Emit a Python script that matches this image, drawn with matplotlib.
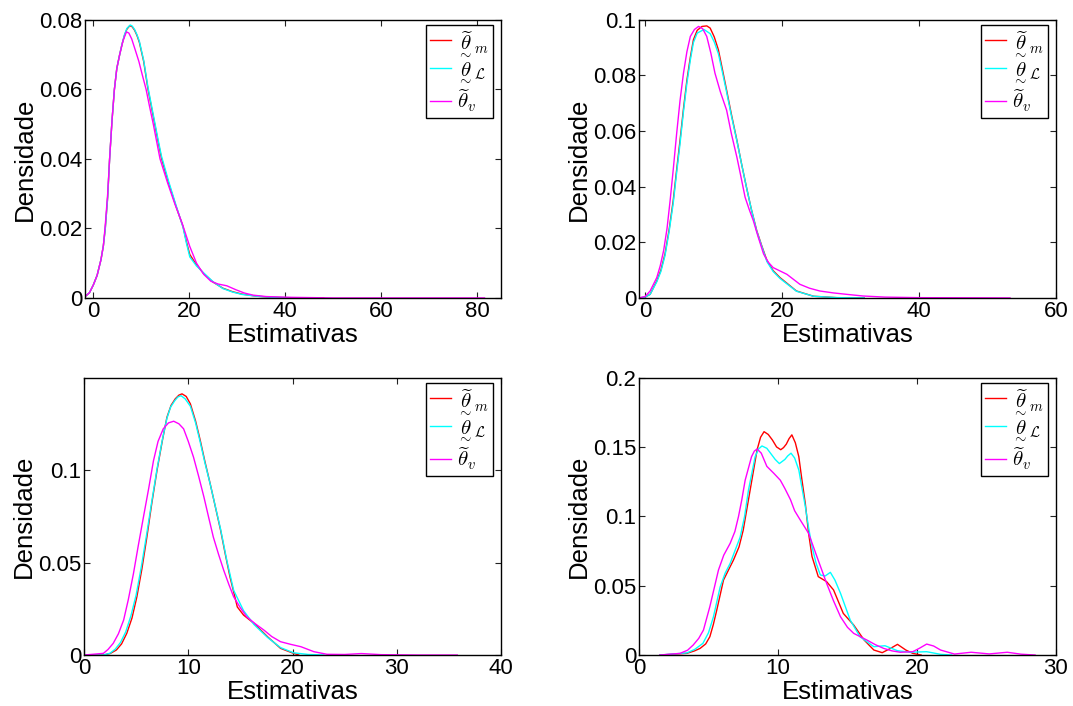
import matplotlib
matplotlib.use("Agg")
import matplotlib.pyplot as plt

plt.rcParams['font.family'] = ['Liberation Sans', 'DejaVu Sans']
plt.rcParams['mathtext.fontset'] = 'cm'

# ---- data (kernel density estimates) ----
legend_labels = [r'$\underset{\sim}{\widetilde{\theta}}_m$',
                 r'$\underset{\sim}{\theta}_{\mathcal{L}}$',
                 r'$\widetilde{\theta}_v$']
colors = ['red', 'cyan', 'magenta']

# panel 1 (top left)
tl_red_x = [-1.7, -0.8, 0, 0.8, 1.6, 2.1, 2.5, 3.0, 3.4, 3.9, 4.4, 4.9, 5.5, 6.0, 6.5, 7.0, 7.6, 8.1, 8.6,
            9.1, 9.6, 10.5, 11.4, 12.1, 12.8, 13.5, 14.2, 15.7, 17.2, 18.7, 19.4, 20.1, 21.5, 23.0, 25.0,
            27.0, 29.0, 31.0, 34.0, 37.0, 40.0, 44.0, 48.0]
tl_red_y = [0.0004, 0.0015, 0.0037, 0.0065, 0.011, 0.015, 0.020, 0.029, 0.040, 0.051, 0.060, 0.066, 0.0700,
            0.0730, 0.0755, 0.0773, 0.0783, 0.0780, 0.0770, 0.0755, 0.0735, 0.0680, 0.0600, 0.0550, 0.0500,
            0.0450, 0.0402, 0.0330, 0.0265, 0.0205, 0.0162, 0.0125, 0.0095, 0.0070, 0.0045, 0.0028, 0.0018,
            0.0011, 0.0005, 0.0002, 0.0001, 0.0, 0.0]
tl_cyan_x = [-1.7, -0.8, 0, 0.8, 1.6, 2.1, 2.5, 3.0, 3.4, 3.9, 4.4, 4.9, 5.5, 6.0, 6.5, 7.0, 7.7, 8.1, 8.6,
             9.1, 9.6, 10.5, 11.4, 12.1, 12.8, 13.5, 14.2, 15.7, 17.2, 18.7, 19.4, 20.1, 21.5, 23.0, 25.0,
             27.0, 29.0, 31.0, 34.0, 37.0, 40.0, 44.0, 47.0]
tl_cyan_y = [0.0004, 0.0015, 0.0037, 0.0065, 0.011, 0.015, 0.020, 0.029, 0.040, 0.051, 0.060, 0.066, 0.0700,
             0.0731, 0.0757, 0.0775, 0.0785, 0.0782, 0.0772, 0.0757, 0.0738, 0.0683, 0.0605, 0.0555, 0.0505,
             0.0455, 0.0408, 0.0335, 0.0268, 0.0203, 0.0158, 0.0118, 0.0092, 0.0072, 0.0046, 0.0027, 0.0017,
             0.0010, 0.0005, 0.0002, 0.0001, 0.0, 0.0]
tl_mag_x = [-1.7, -0.8, 0, 0.8, 1.6, 2.1, 2.5, 3.0, 3.4, 3.9, 4.4, 4.9, 5.5, 6.2, 6.9, 7.4, 8.0, 8.7, 9.5,
            10.2, 11.0, 11.7, 12.5, 13.2, 13.9, 15.5, 17.0, 18.5, 20.1, 21.5, 23.0, 24.5, 26.0, 27.8, 29.8,
            31.5, 33.3, 36.0, 40.0, 50.0, 81.5]
tl_mag_y = [0.0004, 0.0015, 0.0037, 0.0065, 0.011, 0.015, 0.021, 0.030, 0.040, 0.051, 0.060, 0.066, 0.0700,
            0.0740, 0.0765, 0.0762, 0.0745, 0.0715, 0.0680, 0.0642, 0.0600, 0.0552, 0.0500, 0.0450, 0.0400,
            0.0330, 0.0270, 0.0215, 0.0148, 0.0100, 0.0068, 0.0048, 0.0040, 0.0035, 0.0023, 0.0014, 0.0008,
            0.0004, 0.0002, 0.0, 0.0]

# panel 2 (top right)
tr_red_x = [-0.9, 0.0, 0.73, 1.7, 2.3, 2.9, 3.5, 4.1, 4.6, 5.1, 5.6, 6.1, 6.6, 7.05, 7.6, 8.3, 9.0, 9.5,
            10.1, 10.7, 11.3, 11.9, 12.6, 13.4, 14.1, 14.8, 15.5, 16.3, 17.0, 17.8, 18.7, 19.7, 22.1, 24.6,
            28.0, 32.0]
tr_red_y = [0.0, 0.0003, 0.0013, 0.0061, 0.0100, 0.0158, 0.0245, 0.035, 0.046, 0.0567, 0.068, 0.0783, 0.0865,
            0.0928, 0.0962, 0.0976, 0.0978, 0.0970, 0.0938, 0.0892, 0.082, 0.0747, 0.066, 0.0567, 0.048,
            0.0398, 0.032, 0.0242, 0.019, 0.0134, 0.0098, 0.0073, 0.0025, 0.0006, 0.0001, 0.0]
tr_cyan_x = [-0.9, 0.0, 0.73, 1.7, 2.3, 2.9, 3.5, 4.1, 4.6, 5.1, 5.6, 6.1, 6.6, 7.05, 7.6, 8.6, 9.5,
             10.1, 10.7, 11.3, 11.9, 12.6, 13.4, 14.1, 14.8, 15.5, 16.3, 17.0, 17.8, 18.7, 19.7, 22.1, 24.6,
             28.0, 32.0]
tr_cyan_y = [0.0, 0.0003, 0.0013, 0.0058, 0.0095, 0.0152, 0.0238, 0.034, 0.045, 0.0555, 0.067, 0.0772, 0.0855,
             0.0918, 0.0952, 0.0965, 0.0950, 0.0920, 0.0878, 0.081, 0.0740, 0.0655, 0.0565, 0.048, 0.0398,
             0.032, 0.0240, 0.0188, 0.0130, 0.0095, 0.0070, 0.0024, 0.0006, 0.0001, 0.0]
tr_mag_x = [-0.9, 0.0, 0.73, 1.7, 2.2, 2.7, 3.2, 3.65, 4.1, 4.6, 5.1, 5.6, 6.1, 6.6, 7.2, 7.8, 8.4, 9.0, 9.6,
            10.2, 11.0, 11.9, 12.6, 13.4, 14.0, 14.6, 15.2, 15.8, 16.5, 17.3, 18.0, 18.7, 19.7, 20.7, 21.6,
            22.6, 24.0, 25.5, 27.5, 29.4, 31.8, 35.0, 40.0, 53.3]
tr_mag_y = [0.0, 0.0005, 0.0025, 0.0073, 0.0115, 0.017, 0.025, 0.035, 0.046, 0.059, 0.071, 0.0808, 0.0885,
            0.094, 0.0965, 0.0976, 0.0968, 0.094, 0.088, 0.0808, 0.074, 0.0675, 0.059, 0.0506, 0.0435, 0.0362,
            0.0318, 0.0278, 0.022, 0.0158, 0.0128, 0.0109, 0.0097, 0.0085, 0.0068, 0.0049, 0.0035, 0.0025,
            0.0018, 0.0013, 0.0007, 0.0003, 0.0001, 0.0]

# panel 3 (bottom left)
bl_red_x = [0.0, 1.86, 2.5, 3.1, 3.6, 4.1, 4.6, 5.07, 5.55, 6.03, 6.5, 7.0, 7.5, 7.95, 8.35, 8.75, 9.1, 9.4,
            9.8, 10.2, 10.7, 11.15, 11.6, 12.1, 12.6, 13.1, 13.55, 14.0, 14.4, 14.7, 15.3, 16.3, 17.6, 18.85,
            20.1, 20.6]
bl_red_y = [0.0, 0.0, 0.0008, 0.0027, 0.0060, 0.0117, 0.0200, 0.0315, 0.0465, 0.0638, 0.0820, 0.0998, 0.1155,
            0.1285, 0.1350, 0.1385, 0.1405, 0.1412, 0.1398, 0.1358, 0.1265, 0.116, 0.1045, 0.0926, 0.0800,
            0.0674, 0.0545, 0.0422, 0.0330, 0.026, 0.0216, 0.0171, 0.0099, 0.0036, 0.0009, 0.0]
bl_cyan_x = [0.0, 1.86, 2.5, 3.0, 3.5, 4.0, 4.5, 5.0, 5.5, 6.0, 6.5, 7.0, 7.5, 7.95, 8.3, 8.7, 9.0, 9.3,
             9.7, 10.2, 10.7, 11.15, 11.6, 12.1, 12.6, 13.1, 13.7, 14.35, 15.3, 16.3, 17.6, 18.85, 20.1,
             21.5, 23.0]
bl_cyan_y = [0.0, 0.0, 0.0010, 0.0032, 0.0068, 0.0125, 0.0212, 0.0325, 0.0478, 0.065, 0.0830, 0.1005, 0.1160,
             0.128, 0.1340, 0.1375, 0.1395, 0.1402, 0.1385, 0.1345, 0.1255, 0.1150, 0.1038, 0.0925, 0.0802,
             0.068, 0.0510, 0.0350, 0.024, 0.0165, 0.0095, 0.0040, 0.0012, 0.0003, 0.0]
bl_mag_x = [0.0, 1.86, 2.3, 2.8, 3.3, 3.8, 4.25, 4.74, 5.2, 5.7, 6.2, 6.66, 7.1, 7.6, 8.1, 8.6, 9.1, 9.55,
            10.0, 10.5, 11.0, 11.5, 11.95, 12.4, 12.9, 13.4, 13.9, 14.35, 15.0, 15.6, 16.4, 17.25, 18.0,
            18.85, 19.8, 20.8, 22.05, 23.3, 25.0, 26.6, 28.5, 32.0, 35.8]
bl_mag_y = [0.0, 0.0009, 0.0030, 0.0063, 0.0115, 0.0189, 0.0300, 0.044, 0.0590, 0.0746, 0.0900, 0.105,
            0.1155, 0.1223, 0.1255, 0.1264, 0.1250, 0.1223, 0.1155, 0.107, 0.0965, 0.0854, 0.0745, 0.0638,
            0.0545, 0.0458, 0.0380, 0.0315, 0.0255, 0.0207, 0.0170, 0.0135, 0.0100, 0.0072, 0.0058, 0.0045,
            0.0018, 0.0004, 0.0003, 0.0008, 0.0002, 0.0, 0.0]

# panel 4 (bottom right)
br_red_x = [1.5, 3.44, 4.0, 4.4, 4.8, 5.1, 5.35, 5.6, 6.08, 6.5, 6.8, 7.2, 7.5, 8.0, 8.5, 8.75, 9.0, 9.3,
            9.6, 9.9, 10.2, 10.4, 10.6, 10.8, 11.0, 11.25, 11.5, 11.7, 11.97, 12.2, 12.45, 12.9, 13.5, 14.0,
            14.7, 15.45, 16.2, 16.9, 17.5, 18.1, 18.6, 19.2, 19.7, 20.3]
br_red_y = [0.0, 0.0012, 0.0030, 0.0048, 0.0080, 0.0132, 0.0220, 0.0325, 0.054, 0.0625, 0.0685, 0.0780, 0.09,
            0.119, 0.148, 0.157, 0.161, 0.159, 0.155, 0.150, 0.148, 0.1495, 0.152, 0.156, 0.1587, 0.153, 0.143,
            0.128, 0.109, 0.088, 0.071, 0.0565, 0.0529, 0.0469, 0.030, 0.0216, 0.0108, 0.0036, 0.0017,
            0.0048, 0.0077, 0.0036, 0.0012, 0.0]
br_cyan_x = [1.5, 3.44, 4.0, 4.6, 5.0, 5.36, 5.84, 6.2, 6.56, 6.9, 7.28, 7.6, 7.88, 8.36, 8.6, 8.85, 9.2, 9.5,
             9.8, 10.1, 10.5, 10.7, 10.94, 11.2, 11.5, 11.7, 11.97, 12.2, 12.45, 12.75, 13.05, 13.4, 13.77,
             14.1, 14.5, 15.2, 15.9, 16.9, 17.7, 18.6, 19.5, 20.7, 21.7, 22.5]
br_cyan_y = [0.0, 0.0015, 0.0040, 0.0084, 0.0160, 0.0276, 0.049, 0.0590, 0.066, 0.0750, 0.085, 0.1000, 0.119,
             0.143, 0.1485, 0.1507, 0.149, 0.145, 0.141, 0.138, 0.141, 0.1435, 0.1455, 0.1420, 0.1334, 0.122,
             0.107, 0.092, 0.078, 0.066, 0.0577, 0.0570, 0.0596, 0.0540, 0.0445, 0.0252, 0.0132, 0.006,
             0.0067, 0.0031, 0.002, 0.0024, 0.0005, 0.0]
br_mag_x = [1.5, 2.96, 3.5, 3.9, 4.3, 4.64, 5.1, 5.72, 6.1, 6.56, 6.9, 7.16, 7.4, 7.64, 8.1, 8.3, 8.5, 8.8,
            9.2, 9.7, 10.17, 10.5, 10.9, 11.2, 11.6, 12.2, 12.8, 13.5, 14.0, 14.5, 15.0, 15.45, 16.4, 17.0,
            17.6, 18.2, 18.8, 19.7, 20.2, 20.7, 21.2, 21.7, 22.7, 23.9, 25.2, 26.5, 27.5, 28.5]
br_mag_y = [0.0, 0.0012, 0.0035, 0.0072, 0.0120, 0.018, 0.0349, 0.0613, 0.0720, 0.0805, 0.0890, 0.0998, 0.112,
            0.126, 0.143, 0.1470, 0.1485, 0.1455, 0.136, 0.131, 0.126, 0.120, 0.112, 0.1040, 0.0974, 0.0878,
            0.071, 0.0517, 0.0390, 0.0276, 0.0200, 0.0156, 0.0108, 0.0075, 0.0048, 0.0030, 0.002, 0.0024,
            0.0050, 0.0079, 0.0065, 0.0036, 0.0007, 0.002, 0.0008, 0.002, 0.0006, 0.0]

# axis settings per panel
tl_xticks = [0, 20, 40, 60, 80]
tl_yticks = [0, 0.02, 0.04, 0.06, 0.08]
tl_ylabels = ['0', '0.02', '0.04', '0.06', '0.08']
tr_xticks = [0, 20, 40, 60]
tr_yticks = [0, 0.02, 0.04, 0.06, 0.08, 0.1]
tr_ylabels = ['0', '0.02', '0.04', '0.06', '0.08', '0.1']
bl_xticks = [0, 10, 20, 30, 40]
bl_yticks = [0, 0.05, 0.1]
bl_ylabels = ['0', '0.05', '0.1']
br_xticks = [0, 10, 20, 30]
br_yticks = [0, 0.05, 0.1, 0.15, 0.2]
br_ylabels = ['0', '0.05', '0.1', '0.15', '0.2']

panels = [
    ([0.0792, 0.578, 0.388, 0.394], (-1.73, 85.0), (0, 0.08), tl_xticks, tl_yticks, tl_ylabels,
     [(tl_red_x, tl_red_y), (tl_cyan_x, tl_cyan_y), (tl_mag_x, tl_mag_y)]),
    ([0.5955, 0.578, 0.3886, 0.394], (-0.9, 60), (0, 0.1), tr_xticks, tr_yticks, tr_ylabels,
     [(tr_red_x, tr_red_y), (tr_cyan_x, tr_cyan_y), (tr_mag_x, tr_mag_y)]),
    ([0.0783, 0.0722, 0.3887, 0.393], (0, 40), (0, 0.15), bl_xticks, bl_yticks, bl_ylabels,
     [(bl_red_x, bl_red_y), (bl_cyan_x, bl_cyan_y), (bl_mag_x, bl_mag_y)]),
    ([0.5955, 0.0722, 0.3886, 0.393], (0, 30), (0, 0.2), br_xticks, br_yticks, br_ylabels,
     [(br_red_x, br_red_y), (br_cyan_x, br_cyan_y), (br_mag_x, br_mag_y)]),
]

fig = plt.figure(figsize=(10.73, 7.06), dpi=100)

for rect, xlim, ylim, xt, yt, ylab, curves in panels:
    ax = fig.add_axes(rect)
    for (cx, cy), col, lab in zip(curves, colors, legend_labels):
        ax.plot(cx, cy, color=col, lw=1.0, label=lab)
    ax.set_xlim(*xlim)
    ax.set_ylim(*ylim)
    ax.set_xticks(xt)
    ax.set_yticks(yt)
    ax.set_yticklabels(ylab)
    ax.tick_params(direction='in', length=4, width=0.8, top=True, right=True,
                   labelsize=16, color='#222222')
    ax.tick_params(axis='x', pad=2)
    ax.tick_params(axis='y', pad=2)
    for s in ax.spines.values():
        s.set_linewidth(1.0)
        s.set_color('black')
    ax.set_xlabel('Estimativas', fontsize=18.5, va='baseline')
    ax.xaxis.set_label_coords(0.5, -0.16)
    ax.set_ylabel('Densidade', fontsize=18.5, va='center')
    ax.yaxis.set_label_coords(-0.145, 0.5)
    leg = ax.legend(loc='upper right', bbox_to_anchor=(0.981, 0.982), borderaxespad=0,
                    fontsize=15, handlelength=1.0, handletextpad=0.3, labelspacing=0.15,
                    borderpad=0.2, fancybox=False, framealpha=1, edgecolor='black')
    leg.get_frame().set_linewidth(1.0)

fig.savefig('out.png', dpi=100)
